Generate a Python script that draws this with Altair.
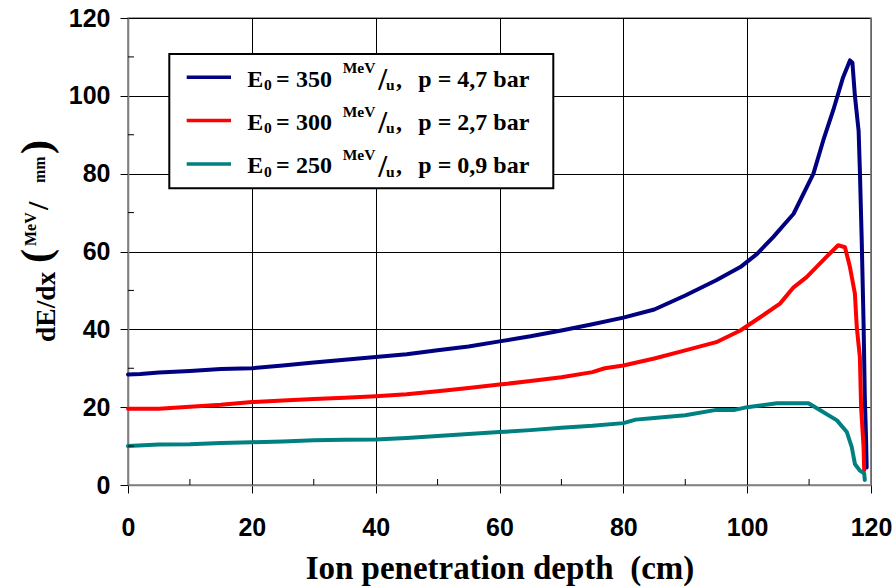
import altair as alt
import pandas as pd

# ---------------- data ----------------
energies = ["350", "300", "250"]
pressures = ["4,7", "2,7", "0,9"]

x350 = [0, 2, 5, 10, 15, 20, 25, 30, 35, 40, 45, 50, 55, 60, 65, 70, 75, 80, 85, 90, 95,
        98.9, 101.6, 104.2, 107.5, 110.7, 112.3, 113.9, 115.5, 116.6, 117.0, 117.4, 118.0,
        118.2, 118.5, 118.8, 119.0, 119.2, 119.3]
y350 = [28.4, 28.5, 28.9, 29.3, 29.8, 30.0, 30.7, 31.5, 32.2, 32.9, 33.6, 34.6, 35.6, 36.9,
        38.2, 39.7, 41.3, 43.0, 45.1, 48.7, 52.6, 56.0, 59.4, 63.7, 69.7, 80.0, 88.6, 96.3,
        104.8, 109.1, 108.5, 100.0, 91.0, 81.0, 63.0, 41.5, 22.6, 12.0, 4.5]

x300 = [0, 5, 10, 15, 20, 25, 30, 35, 40, 45, 50, 55, 60, 65, 70, 75, 77, 80, 85, 90, 95,
        98.9, 102.1, 105.3, 107.5, 109.6, 112.8, 114.7, 115.8, 116.6, 117.4, 117.7, 118.2,
        118.4, 118.8, 118.9]
y300 = [19.6, 19.6, 20.1, 20.6, 21.3, 21.7, 22.1, 22.4, 22.8, 23.3, 24.1, 24.9, 25.8, 26.7,
        27.7, 29.0, 30.0, 30.7, 32.5, 34.6, 36.7, 39.7, 43.1, 46.6, 50.8, 53.4, 58.6, 61.6,
        61.1, 56.0, 49.2, 40.6, 32.9, 20.0, 9.7, 3.8]

x250 = [0, 5, 10, 15, 20, 25, 30, 35, 40, 45, 50, 55, 60, 65, 70, 75, 80, 82, 85, 90, 95,
        98, 100, 102.1, 104.8, 109.9, 111.8, 114.5, 116.1, 116.9, 117.4, 118.2, 118.9, 119.0]
y250 = [10.0, 10.4, 10.5, 10.8, 11.0, 11.2, 11.5, 11.6, 11.7, 12.1, 12.6, 13.1, 13.6, 14.1,
        14.7, 15.2, 15.9, 16.8, 17.2, 17.9, 19.3, 19.3, 20.0, 20.4, 21.0, 21.0, 19.2, 16.6,
        13.6, 9.7, 5.4, 3.7, 3.0, 1.3]

major_ticks = [0, 20, 40, 60, 80, 100, 120]
minor_ticks = [10, 30, 50, 70, 90, 110]

# ---------------- style ----------------
colors = ["#000080", "#FF0000", "#008080"]
W, H = 743, 467
SERIF = "Liberation Serif"
SANS = "Liberation Sans"
GRAY = "#808080"
NB = "\u00a0"

xs = alt.Scale(domain=[0, 120], nice=False, zero=False)
ys = alt.Scale(domain=[0, 120], nice=False, zero=False)

x_axis = alt.Axis(values=major_ticks, grid=True, gridColor="#000000", gridWidth=1,
                  domainColor=GRAY, domainWidth=1.6, tickColor="#000000", tickSize=8,
                  tickWidth=1, labelFont=SANS, labelFontWeight="bold", labelFontSize=25,
                  labelColor="#000000", labelPadding=22, labelFlush=False, labelOverlap=False,
                  title="Ion penetration depth" + NB + NB + "(cm)", titleFont=SERIF,
                  titleFontSize=33, titleFontWeight="bold", titleColor="#000000",
                  titleBaseline="alphabetic", titleY=93)
y_axis = alt.Axis(values=major_ticks, grid=True, gridColor="#000000", gridWidth=1,
                  domainColor=GRAY, domainWidth=1.6, tickColor="#000000", tickSize=8,
                  tickWidth=1, labelFont=SANS, labelFontWeight="bold", labelFontSize=25,
                  labelColor="#000000", labelPadding=10, labelFlush=False, labelOverlap=False,
                  title=None)

frames = []
for i, (xv, yv) in enumerate([(x350, y350), (x300, y300), (x250, y250)]):
    frames.append(pd.DataFrame({"x": xv, "y": yv, "s": i}))
lines_df = pd.concat(frames, ignore_index=True)

lines = alt.Chart(lines_df).mark_line(strokeWidth=4, strokeCap="round",
                                      strokeJoin="round").encode(
    x=alt.X("x:Q", scale=xs, axis=x_axis),
    y=alt.Y("y:Q", scale=ys, axis=y_axis),
    color=alt.Color("s:N", scale=alt.Scale(domain=[0, 1, 2], range=colors), legend=None),
    order=alt.Order("x:Q"),
)

layers = [lines]

# minor ticks (inward)
mdf = pd.DataFrame({"x": minor_ticks, "y": minor_ticks})
layers.append(alt.Chart(mdf).mark_rule(color="#000000", strokeWidth=1).encode(
    x=alt.X("x:Q", scale=xs, axis=x_axis), y=alt.value(H), y2=alt.value(H - 6)))
layers.append(alt.Chart(mdf).mark_rule(color="#000000", strokeWidth=1).encode(
    y=alt.Y("y:Q", scale=ys, axis=y_axis), x=alt.value(0), x2=alt.value(6)))

# right border in grey (over the black grid line at x=120)
layers.append(alt.Chart(pd.DataFrame({"k": [0]})).mark_rule(color=GRAY, strokeWidth=1.6).encode(
    x=alt.value(W), y=alt.value(0), y2=alt.value(H)))

# ---------------- custom legend ----------------
row0, dy = 68.7, 43.3
one = pd.DataFrame({"k": [0]})
layers.append(alt.Chart(one).mark_rect(fill="white", stroke="#000000", strokeWidth=2).encode(
    x=alt.value(41.3), x2=alt.value(425.3), y=alt.value(36), y2=alt.value(170.3)))


def txt(t, px, py, fs, angle=0):
    return alt.Chart(one).mark_text(align="left", baseline="alphabetic", font=SERIF,
                                    fontWeight="bold", color="#000000", fontSize=fs,
                                    angle=angle).encode(
        x=alt.value(px), y=alt.value(py), text=alt.value(t))


for i, (e, p) in enumerate(zip(energies, pressures)):
    b = row0 + dy * i
    layers.append(alt.Chart(one).mark_rule(color=colors[i], strokeWidth=3.5).encode(
        x=alt.value(58.7), x2=alt.value(103), y=alt.value(b - 9.4)))
    for t, px, py, fs in [
        ("E", 119.3, b, 24),
        ("0", 136.0, b + 3.3, 15.5),
        ("=", 148.0, b, 24),
        (e, 168.0, b, 24),
        ("MeV", 214.7, b - 13.4, 15.5),
        ("/", 250.3, b + 3.3, 32),
        ("u", 258.0, b + 3.3, 15.5),
        (",", 268.0, b, 24),
        ("p = " + p + " bar", 290.3, b, 24),
    ]:
        layers.append(txt(t, px, py, fs))

# ---------------- y title (dE/dx (MeV/mm)) ----------------
for t, px, py, fs in [
    ("dE/dx", -73, 324, 27.5),
    ("(", -78, 245, 42),
    ("MeV", -92, 228, 16),
    ("/", -80, 192, 30),
    ("mm", -83, 165, 16),
    (")", -78, 136, 42),
]:
    layers.append(txt(t, px, py, fs, angle=270))

chart = alt.layer(*layers).properties(
    width=W, height=H,
    autosize=alt.AutoSizeParams(type="none"),
    padding={"left": 128, "top": 18, "right": 25, "bottom": 102},
    background="white",
).configure_view(stroke=GRAY, strokeWidth=1.6)

chart.save("out.html", embed_options={"renderer": "svg", "actions": False})
